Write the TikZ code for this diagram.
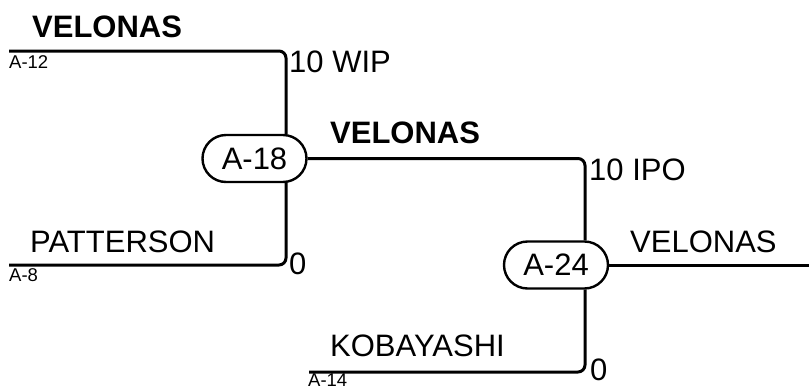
\documentclass[tikz,border=0pt]{standalone}
\usepackage{fontspec}
\setmainfont{Liberation Sans}
\usetikzlibrary{shapes.misc}
\tikzset{
  wire/.style={line width=3pt, rounded corners=7pt},
  matchbox/.style={rounded rectangle, draw, line width=2.4pt, minimum width=104pt, minimum height=47pt, inner sep=0pt, font=\fontsize{31}{37}\selectfont},
  big/.style={anchor=base west, inner sep=0pt, font=\fontsize{31}{37}\selectfont},
  bigb/.style={anchor=base west, inner sep=0pt, font=\fontsize{31}{37}\selectfont\bfseries},
  small/.style={anchor=base west, inner sep=0pt, font=\fontsize{18.5}{22}\selectfont},
}
\begin{document}
\begin{tikzpicture}[x=1pt,y=-1pt]
\useasboundingbox (0,0) rectangle (809,389);
% match nodes
\node[matchbox] (n18) at (254.5,158.5) {A-18};
\node[matchbox] (n24) at (556,265) {A-24};
% coordinates
\coordinate (a12) at (9,51);
\coordinate (k1) at (286,51);
\coordinate (a8) at (9,265);
\coordinate (k2) at (286,265);
\coordinate (k3) at (585,158.5);
\coordinate (a14) at (309,372);
\coordinate (k4) at (585,372);
\coordinate (out) at (809,265);
% wires
\draw[wire] (a12) -- (k1) -- (k1 |- n18.north);
\draw[wire] (a8) -- (k2) -- (k2 |- n18.south);
\draw[wire] (n18.east) -- (k3) -- (k3 |- n24.north);
\draw[wire] (a14) -- (k4) -- (k4 |- n24.south);
\draw[wire] (n24.east) -- (out);
% labels
\node[bigb] (l1) at (32,37) {VELONAS};
\node[small] (l2) at (9,68) {A-12};
\node[big] (l3) at (289,72) {10 WIP};
\node[bigb] (l4) at (330,143) {VELONAS};
\node[big] (l5) at (589,180) {10 IPO};
\node[big] (l6) at (30,252) {PATTERSON};
\node[small] (l7) at (9,281) {A-8};
\node[big] (l8) at (289,274) {0};
\node[big] (l9) at (630,252) {VELONAS};
\node[big] (l10) at (330,356) {KOBAYASHI};
\node[small] (l11) at (308,386) {A-14};
\node[big] (l12) at (590,380) {0};
\end{tikzpicture}
\end{document}
